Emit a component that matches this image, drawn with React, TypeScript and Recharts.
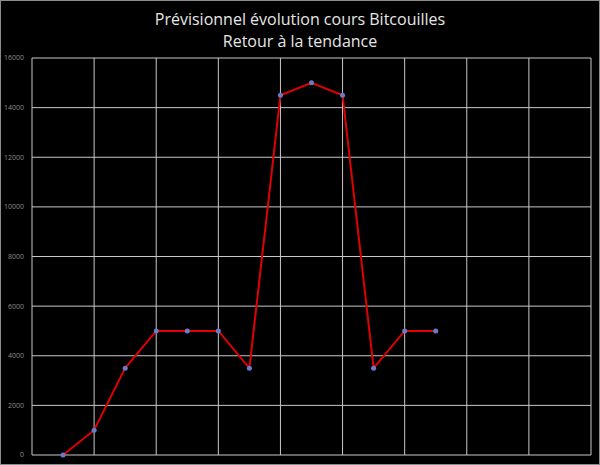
import React from 'react';
import { LineChart, Line, XAxis, YAxis, CartesianGrid } from 'recharts';

const steps = [1, 2, 3, 4, 5, 6, 7, 8, 9, 10, 11, 12, 13];
const cours = [0, 1000, 3500, 5000, 5000, 5000, 3500, 14500, 15000, 14500, 3500, 5000, 5000];
const xTicks = [0, 2, 4, 6, 8, 10, 12, 14, 16, 18];
const yTicks = [0, 2000, 4000, 6000, 8000, 10000, 12000, 14000, 16000];

const data = steps.map((x, i) => ({ x, cours: cours[i] }));

const App: React.FC = () => {
  return (
    <div
      style={{
        position: 'absolute',
        left: 0,
        top: 0,
        width: 600,
        height: 465,
        background: '#000',
        border: '1px solid #8c8c8c',
        boxSizing: 'border-box',
        fontFamily: 'Open Sans, sans-serif',
      }}
    >
      <div
        style={{
          position: 'absolute',
          top: 7,
          left: 0,
          width: '100%',
          textAlign: 'center',
          color: '#e6e6e6',
          fontSize: 16,
          lineHeight: '22px',
        }}
      >
        <div>Prévisionnel évolution cours Bitcouilles</div>
        <div>Retour à la tendance</div>
      </div>
      <div style={{ position: 'absolute', left: -1, top: -1 }}>
        <LineChart width={600} height={465} data={data} margin={{ top: 58, right: 9, bottom: 10, left: 2 }}>
          <CartesianGrid stroke="#c8c8c8" strokeWidth={1} />
          <XAxis dataKey="x" type="number" domain={[0, 18]} ticks={xTicks} hide />
          <YAxis
            type="number"
            domain={[0, 16000]}
            ticks={yTicks}
            width={30}
            axisLine={false}
            tickLine={false}
            tick={{ fill: '#8c8c8c', stroke: 'none', fontSize: 7 }}
          />
          <Line
            dataKey="cours"
            type="linear"
            stroke="#e00000"
            strokeWidth={2}
            dot={{ r: 2.5, fill: '#6b7bc8', stroke: 'none' }}
            isAnimationActive={false}
          />
        </LineChart>
      </div>
    </div>
  );
};

export default App;
